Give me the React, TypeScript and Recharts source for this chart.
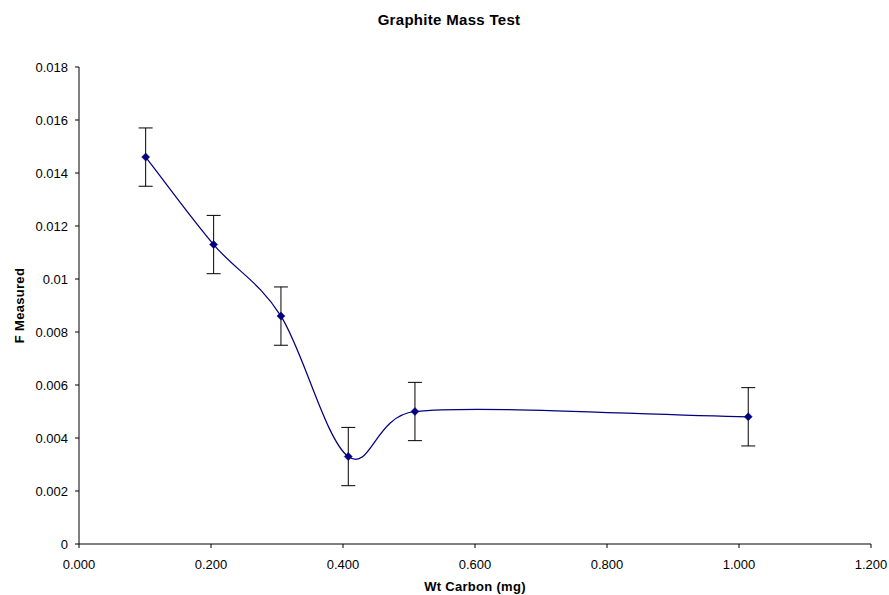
import React from 'react';
import { ComposedChart, Line, XAxis, YAxis, ErrorBar } from 'recharts';

const wtCarbon = [0.101, 0.204, 0.306, 0.408, 0.509, 1.014];
const fMeasured = [0.0146, 0.0113, 0.0086, 0.0033, 0.005, 0.0048];
const fError = [0.0011, 0.0011, 0.0011, 0.0011, 0.0011, 0.0011];
const xTicks = [0, 0.2, 0.4, 0.6, 0.8, 1.0, 1.2];
const yTicks = [0, 0.002, 0.004, 0.006, 0.008, 0.01, 0.012, 0.014, 0.016, 0.018];

const data = wtCarbon.map((x, i) => ({ x, f: fMeasured[i], err: fError[i] }));

const FONT = '"Liberation Sans", Arial, sans-serif';

const dist = (a: number[], b: number[]) => Math.hypot(a[0] - b[0], a[1] - b[1]);

// Excel-like smoothed line (Bezier with clamped tangents)
function excelCurve(context: any) {
  let pts: number[][] = [];
  return {
    areaStart() {},
    areaEnd() {},
    lineStart() {
      pts = [];
    },
    point(x: number, y: number) {
      pts.push([+x, +y]);
    },
    lineEnd() {
      const n = pts.length;
      if (!n) return;
      context.moveTo(pts[0][0], pts[0][1]);
      for (let i = 0; i < n - 1; i++) {
        const first = i === 0;
        const last = i + 2 > n - 1;
        const p0 = pts[Math.max(i - 1, 0)];
        const p1 = pts[i];
        const p2 = pts[i + 1];
        const p3 = pts[Math.min(i + 2, n - 1)];
        let f = first ? 1 / 3 : 1 / 6;
        let g = last ? 1 / 3 : 1 / 6;
        const d02 = dist(p0, p2);
        const d12 = dist(p1, p2);
        const d13 = dist(p1, p3);
        if (d02 * f > d12 / 2 && d02 > 0) f = d12 / (2 * d02);
        if (d13 * g > d12 / 2 && d13 > 0) g = d12 / (2 * d13);
        const c1x = p1[0] + f * (p2[0] - p0[0]);
        const c1y = p1[1] + f * (p2[1] - p0[1]);
        const c2x = p2[0] - g * (p3[0] - p1[0]);
        const c2y = p2[1] - g * (p3[1] - p1[1]);
        context.bezierCurveTo(c1x, c1y, c2x, c2y, p2[0], p2[1]);
      }
    },
  };
}

const Diamond = (props: any) => {
  const { cx, cy } = props;
  if (cx == null || cy == null) return null;
  const s = 4;
  return (
    <path
      d={`M${cx},${cy - s}L${cx + s},${cy}L${cx},${cy + s}L${cx - s},${cy}Z`}
      fill="#000080"
      stroke="#000080"
      strokeWidth={0.5}
    />
  );
};

const fmtY = (v: number) => String(Number(v.toFixed(3)));
const fmtX = (v: number) => v.toFixed(3);

export default function App() {
  return (
    <div style={{ position: 'absolute', left: 0, top: 0, width: 889, height: 595, background: '#fff' }}>
      <svg width={889} height={40} style={{ position: 'absolute', left: 0, top: 0 }}>
        <text
          x={449}
          y={25}
          textAnchor="middle"
          fontFamily={FONT}
          fontWeight="bold"
          fontSize={15}
          letterSpacing={0.3}
          fill="#000"
        >
          Graphite Mass Test
        </text>
      </svg>
      <div style={{ position: 'absolute', left: 0, top: 0 }}>
        <ComposedChart
          width={889}
          height={595}
          data={data}
          margin={{ top: 67, right: 18, bottom: 0, left: 0 }}
        >
          <XAxis
            type="number"
            dataKey="x"
            domain={[0, 1.2]}
            ticks={xTicks}
            tickFormatter={fmtX}
            height={51}
            tickSize={4}
            tickMargin={12}
            axisLine={{ stroke: '#000', strokeWidth: 1 }}
            tickLine={{ stroke: '#000', strokeWidth: 1 }}
            tick={{ fill: '#000', fontSize: 13, fontFamily: FONT }}
            interval={0}
            allowDataOverflow
            label={(p: any) => {
              const vb = p.viewBox || {};
              return (
                <text
                  x={vb.x + vb.width / 2}
                  y={vb.y + 47}
                  textAnchor="middle"
                  fontFamily={FONT}
                  fontWeight="bold"
                  fontSize={13}
                  letterSpacing={0.3}
                  fill="#000"
                >
                  Wt Carbon (mg)
                </text>
              );
            }}
          />
          <YAxis
            type="number"
            domain={[0, 0.018]}
            ticks={yTicks}
            tickFormatter={fmtY}
            width={79}
            tickSize={4}
            tickMargin={7}
            axisLine={{ stroke: '#000', strokeWidth: 1 }}
            tickLine={{ stroke: '#000', strokeWidth: 1 }}
            tick={{ fill: '#000', fontSize: 13, fontFamily: FONT }}
            interval={0}
            allowDataOverflow
            label={(p: any) => {
              const vb = p.viewBox || {};
              const cx = 23.5;
              const cy = vb.y + vb.height / 2;
              return (
                <text
                  x={cx}
                  y={cy}
                  transform={`rotate(-90, ${cx}, ${cy})`}
                  textAnchor="middle"
                  fontFamily={FONT}
                  fontWeight="bold"
                  fontSize={13}
                  letterSpacing={0.3}
                  fill="#000"
                >
                  F Measured
                </text>
              );
            }}
          />
          <Line
            type={excelCurve as any}
            dataKey="f"
            stroke="#000080"
            strokeWidth={1.25}
            dot={<Diamond />}
            activeDot={false}
            isAnimationActive={false}
          >
            <ErrorBar dataKey="err" direction="y" width={7} stroke="#000" strokeWidth={1} />
          </Line>
        </ComposedChart>
      </div>
    </div>
  );
}
